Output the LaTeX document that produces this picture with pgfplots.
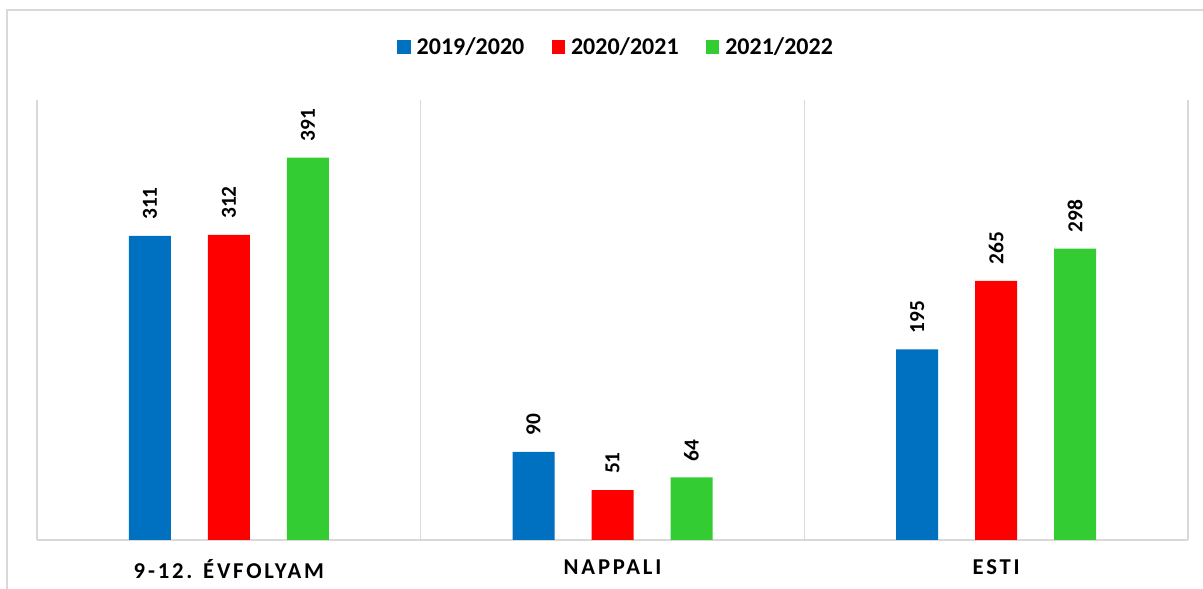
\documentclass[border=0pt]{standalone}
\usepackage{pgfplots}
\pgfplotsset{compat=1.18}
\usepackage{fontspec}
\setmainfont{Carlito}
\definecolor{cblue}{HTML}{0070C0}
\definecolor{cred}{HTML}{FF0000}
\definecolor{cgreen}{HTML}{33CC33}
\definecolor{cgrid}{HTML}{D9D9D9}
\begin{document}
\begin{tikzpicture}
\path[use as bounding box] (0,0) rectangle (902.25pt,441.75pt);
\draw[cgrid, line width=1pt] (5.25pt,-10pt) -- (5.25pt,434.25pt) -- (910pt,434.25pt);
\begin{axis}[
  at={(27.75pt,36.75pt)}, anchor=south west,
  scale only axis, width=863.25pt, height=330pt,
  xmin=-0.5, xmax=2.5, ymin=0, ymax=450,
  ybar=27.75pt, bar width=31.5pt,
  axis line style={draw=none},
  xtick={0,1,2}, xticklabels={9-12. ÉVFOLYAM, NAPPALI, ESTI},
  ytick=\empty,
  tick style={draw=none},
  minor xtick={-0.5,0.5,1.5,2.5}, xminorgrids,
  minor grid style={cgrid, line width=0.9pt},
  extra y ticks={0}, extra y tick labels={},
  extra y tick style={grid=major, major grid style={cgrid, line width=1.5pt}},
  xticklabel style={font=\fontsize{17}{20}\selectfont\bfseries\addfontfeature{LetterSpace=12.5}, yshift=-7pt},
  /pgf/number format/assume math mode=true,
  nodes near coords,
  every node near coord/.append style={rotate=90, anchor=west, font=\fontsize{16}{19}\selectfont\bfseries, inner xsep=12pt, inner ysep=0pt, text=black},
  legend style={at={(0.5,1)}, anchor=center, xshift=3pt, yshift=39.75pt, draw=none, fill=none,
    font=\fontsize{18}{21}\selectfont\bfseries, legend columns=-1,
    /tikz/every even column/.append style={column sep=18.5pt}},
  legend image code/.code={\fill[#1] (0pt,-5pt) rectangle (10pt,5pt); \path (12.5pt,0pt);},
  clip=false,
]
\addplot[fill=cblue, draw=none] coordinates {(0,311) (1,90) (2,195)};
\addplot[fill=cred, draw=none] coordinates {(0,312) (1,51) (2,265)};
\addplot[fill=cgreen, draw=none] coordinates {(0,391) (1,64) (2,298)};
\legend{2019/2020, 2020/2021, 2021/2022}
\end{axis}
\end{tikzpicture}
\end{document}
